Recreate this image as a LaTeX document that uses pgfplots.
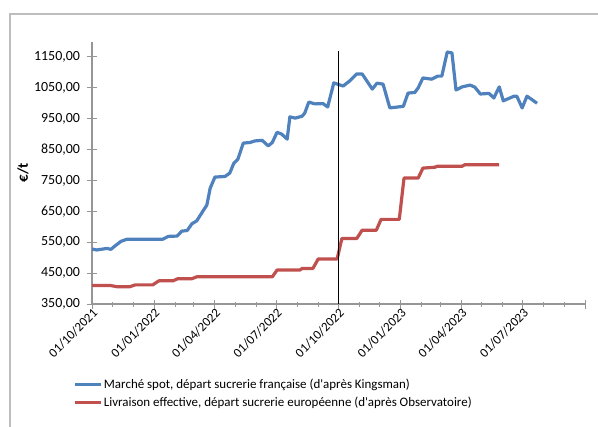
\documentclass[border=0pt]{standalone}
\usepackage{fontspec}
\setmainfont{Carlito}
\usepackage{pgfplots}
\pgfplotsset{compat=1.18}
\definecolor{spotblue}{RGB}{79,129,189}
\definecolor{livred}{RGB}{192,80,77}
\definecolor{axgray}{RGB}{150,150,150}
\definecolor{framegray}{RGB}{190,190,190}
\begin{document}
\begin{tikzpicture}
\useasboundingbox (0,0) rectangle (598bp,-427bp);
% cadre du graphique
\draw[framegray, line width=1.5bp] (10bp,-427bp) -- (10bp,-14bp) -- (598bp,-14bp);
\begin{axis}[
    at={(92bp,-304bp)}, anchor=south west,
    scale only axis,
    width=493bp, height=262.5bp,
    xmin=0, xmax=730,
    ymin=350, ymax=1200,
    axis x line=bottom, axis y line=left,
    axis line style={-, axgray, line width=1.2bp},
    tick style={axgray, line width=1bp},
    major tick length=9bp, minor tick length=5bp,
    xtick={0,92,182,273,365,457,547,638,730},
    xticklabels={01/10/2021,01/01/2022,01/04/2022,01/07/2022,01/10/2022,01/01/2023,01/04/2023,01/07/2023,},
    minor xtick={31,61,123,151,212,243,304,335,396,426,488,516,577,608,669,700},
    ytick={350,450,...,1150},
    /pgf/number format/assume math mode=true,
    yticklabel style={/pgf/number format/fixed, /pgf/number format/fixed zerofill,
        /pgf/number format/precision=2, /pgf/number format/use comma,
        /pgf/number format/1000 sep={}, font=\fontsize{14}{16}\selectfont, xshift=-4bp},
    xticklabel style={rotate=45, anchor=east, font=\fontsize{13}{15}\selectfont, xshift=4bp, yshift=-4bp},
    ylabel={\textbf{€/t}},
    ylabel style={at={(axis description cs:-0.14,0.5)}, anchor=center, font=\fontsize{15}{17}\selectfont},
    legend style={draw=none, fill=none, at={(axis description cs:-0.0385,-0.28)}, anchor=north west,
        font=\fontsize{13}{15}\selectfont, row sep=3.5bp, inner sep=0pt,
        nodes={inner sep=1.5bp}},
    legend cell align=left,
    legend image code/.code={\draw[#1] (0bp,0bp) -- (26bp,0bp);},
    clip=false,
]
% Marché spot (Kingsman)
\addplot[spotblue, line width=3.2bp, line join=round] coordinates {
(0,528) (7,525) (22,530) (28,527) (34,538) (43,553) (52,560) (105,560)
(113,569) (126,570) (133,586) (141,588) (148,610) (155,619) (164,650)
(170,670) (175,725) (182,761) (197,763) (204,774) (210,806) (216,819)
(224,871) (234,873) (241,878) (252,880) (261,862) (267,873) (274,906)
(281,900) (289,884) (293,956) (301,952) (311,958) (315,968) (321,1004)
(330,998) (342,999) (349,988) (358,1066) (366,1060) (372,1056) (382,1073)
(392,1095) (400,1095) (415,1046) (422,1065) (431,1062) (441,985) (461,990)
(468,1033) (478,1035) (483,1050) (490,1082) (503,1078) (512,1088) (518,1088)
(526,1166) (533,1163) (539,1043) (548,1053) (560,1059) (567,1052) (575,1030)
(588,1032) (595,1017) (603,1053) (609,1008) (625,1023) (629,1023) (637,985)
(644,1023) (652,1011) (659,1000)
};
\addlegendentry{Marché spot, départ sucrerie française (d\textquotesingle après Kingsman)}
% Livraison effective (Observatoire)
\addplot[livred, line width=3.2bp, line join=round] coordinates {
(0,410) (27,410) (37,406) (56,406) (64,412) (90,412) (99,425) (120,425)
(127,432) (148,432) (155,438) (267,438) (274,460) (308,460) (311,465)
(327,465) (335,496) (363,496) (370,562) (392,562) (400,589) (421,589)
(428,624) (455,624) (462,758) (483,758) (490,790) (508,793) (511,796)
(548,796) (552,801) (603,801)
};
\addlegendentry{Livraison effective, départ sucrerie européenne (d\textquotesingle après Observatoire)}
% repère 01/10/2022
\addplot[black, line width=0.9bp, forget plot] coordinates {(365,350) (365,1170)};
\end{axis}
\end{tikzpicture}
\end{document}
